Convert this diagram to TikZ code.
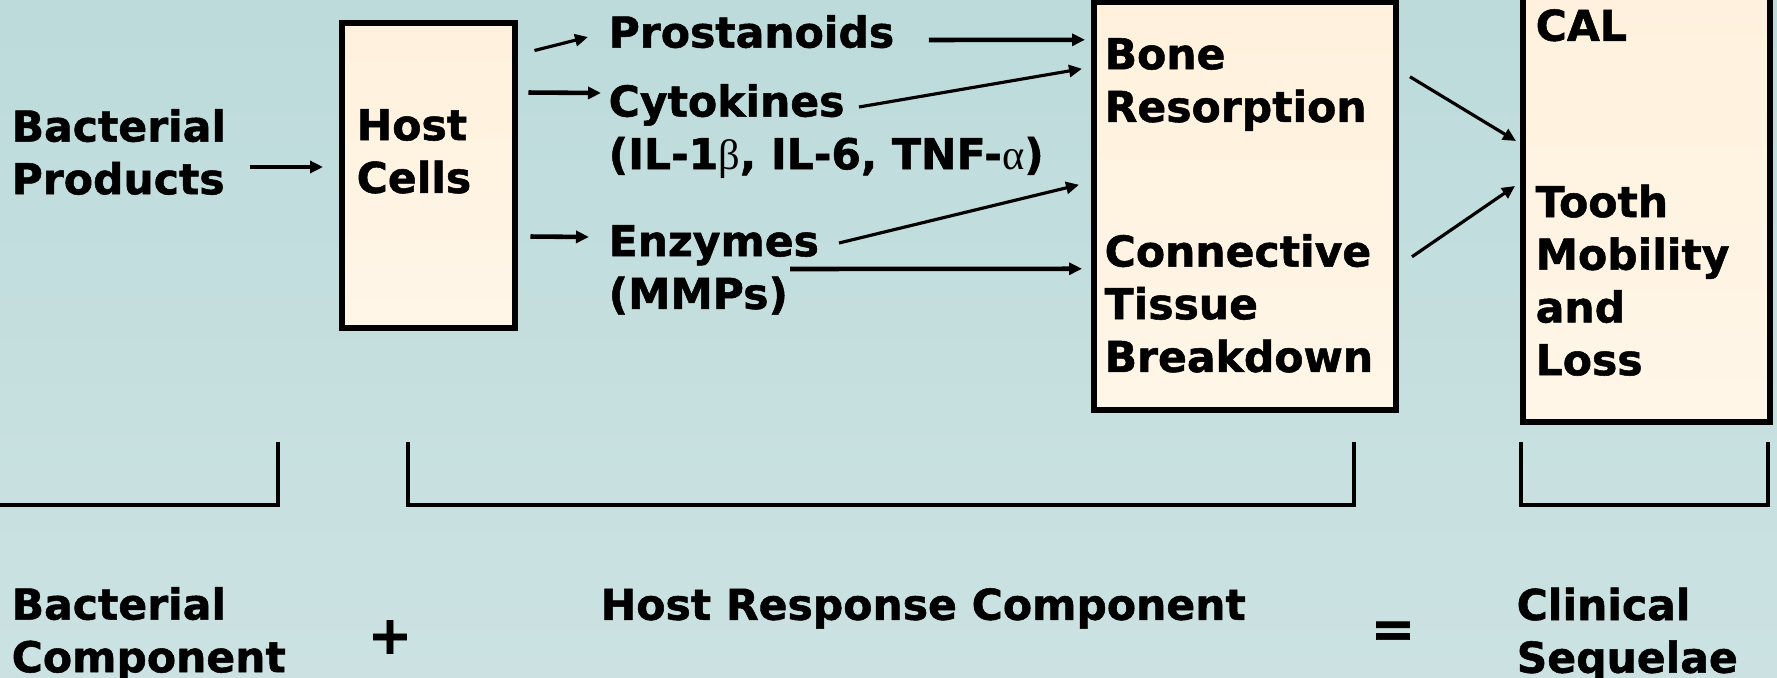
\documentclass[tikz,border=0pt]{standalone}
\usepackage{fontspec}
\setmainfont{DejaVu Sans}[BoldFeatures={FakeBold=1.2}]
\newfontfamily\grk{Liberation Serif}
\usetikzlibrary{arrows.meta, calc}
\definecolor{bgtop}{HTML}{BDDBDB}
\definecolor{bgbot}{HTML}{CCE2E2}
\definecolor{boxtop}{HTML}{FFF1DC}
\definecolor{boxbot}{HTML}{FFF6E8}
\tikzset{
  lbl/.style={anchor=north west, inner sep=0pt, align=left,
              font=\fontsize{12.1}{15}\selectfont\bfseries},
  sign/.style={inner sep=0pt, font=\fontsize{15}{15}\selectfont\bfseries},
  panel/.style={rectangle, draw=black, line width=1.7pt, top color=boxtop,
                bottom color=boxbot, inner sep=0pt},
  arr/.style={-{Triangle[length=1.3mm, width=1.2mm]}, line width=0.9pt},
  arrthick/.style={arr, line width=1.3pt},
  brk/.style={line width=1pt, draw=black},
}

\begin{document}
\begin{tikzpicture}
  \fill[top color=bgtop, bottom color=bgbot] (0,0) rectangle (17.77,-6.78);
  \useasboundingbox (0,0) rectangle (17.77,-6.78);

  % --- boxes
  \node[panel, minimum width=1.73cm, minimum height=3.05cm] (hostbox) at (4.285,-1.755) {};
  \node[panel, minimum width=3.02cm, minimum height=4.075cm] (bonebox) at (12.45,-2.06) {};
  \node[panel, minimum width=2.47cm, minimum height=4.42cm] (calbox) at (16.465,-2.01) {};

  % --- texts
  \node[lbl] (bacprod) at (0.11,-1.085) {Bacterial\\Products};
  \node[lbl] (host)    at (3.56,-1.085) {Host\\Cells};
  \node[lbl] (prost)   at (6.08,-0.145) {Prostanoids};
  \node[lbl] (cyto)    at (6.08,-0.835) {Cytokines\\(IL-1{\grk\mdseries β}, IL-6, TNF-{\grk\mdseries α})};
  \node[lbl] (enz)     at (6.08,-2.245) {Enzymes\\(MMPs)};
  \node[lbl] (bone)    at (11.04,-0.375) {Bone\\Resorption};
  \node[lbl] (ctb)     at (11.04,-2.335) {Connective\\Tissue\\Breakdown};
  \node[lbl] (cal)     at (15.35,-0.085) {CAL};
  \node[lbl] (tooth)   at (15.35,-1.84) {Tooth\\Mobility\\and\\Loss};

  % --- arrows
  \draw[arrthick] ($(bacprod.east |- hostbox.west)+(0.23,0.085)$) -- ($(hostbox.west)+(-0.16,0.085)$);
  \draw[arr] ($(hostbox.north east)+(0.165,-0.305)$) -- ($(prost.north west)+(-0.20,-0.225)$);
  \draw[arrthick] ($(hostbox.north east)+(0.105,-0.725)$) -- ($(cyto.north west)+(-0.07,-0.095)$);
  \draw[arrthick] ($(hostbox.north east)+(0.125,-2.165)$) -- ($(enz.north west)+(-0.19,-0.125)$);
  \draw[arrthick] ($(prost.north east)+(0.34,-0.255)$) -- ($(bonebox.north west)+(-0.06,-0.405)$);
  \draw[arr] ($(cyto.north west)+(2.51,-0.235)$) -- ($(bonebox.north west)+(-0.09,-0.695)$);
  \draw[arr] ($(enz.north west)+(2.31,-0.185)$) -- ($(bonebox.north west)+(-0.12,-1.855)$);
  \draw[arrthick] ($(enz.north west)+(1.82,-0.445)$) -- ($(bonebox.north west)+(-0.09,-2.695)$);
  \draw[arr] ($(bonebox.north east)+(0.11,-0.775)$) -- ($(calbox.south west)+(-0.04,2.84)$);
  \draw[arr] ($(bonebox.north east)+(0.13,-2.575)$) -- ($(calbox.south west)+(-0.05,2.39)$);

  % --- brackets
  \draw[brk] (-0.1,-5.05) -- (2.78,-5.05) -- (2.78,-4.42);
  \draw[brk] (4.08,-4.42) -- (4.08,-5.05) -- (13.54,-5.05) -- (13.54,-4.42);
  \draw[brk] (15.21,-4.42) -- (15.21,-5.05) -- (17.68,-5.05) -- (17.68,-4.42);

  % --- components
  \node[lbl] (baccomp) at (0.11,-5.865) {Bacterial\\Component};
  \node[sign] (plus) at (3.90,-6.37) {+};
  \node[lbl] (hostcomp) at (6.00,-5.875) {Host Response Component};
  \node[sign] (equals) at (13.93,-6.345) {=};
  \node[lbl] (clin) at (15.16,-5.87) {Clinical\\Sequelae};
\end{tikzpicture}
\end{document}
